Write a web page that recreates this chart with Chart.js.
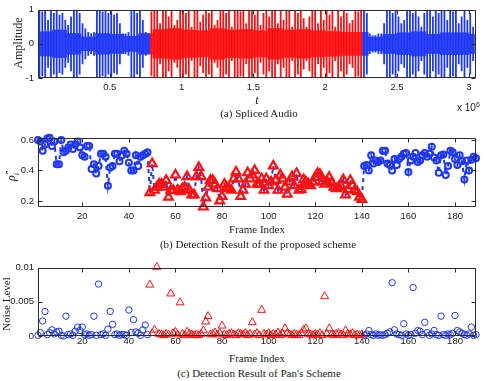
<!DOCTYPE html>
<html>
<head>
<meta charset="utf-8">
<script src="https://cdn.jsdelivr.net/npm/chart.js@4/dist/chart.umd.min.js"></script>
<style>
  body { margin: 0; background: #fff; }
  #page { position: relative; width: 484px; height: 381px; overflow: hidden; background: #fff; }
  canvas { position: absolute; left: 0; }
  .txt { position: absolute; font-family: 'Liberation Serif', serif; font-size: 11px; color: #222;
         white-space: nowrap; transform: translate(-50%, -50%); line-height: 1; }
  .rot { transform: translate(-50%, -50%) rotate(-90deg); }
  .sans { position: absolute; font-family: 'Liberation Sans', sans-serif; font-size: 10px; color: #222;
          white-space: nowrap; line-height: 12px; }
  .sans sup { font-size: 7px; vertical-align: 4px; }
</style>
</head>
<body>
<div id="page">
  <canvas id="audio" width="484" height="96" style="top:0px"></canvas>
  <canvas id="rho" width="484" height="96" style="top:128px"></canvas>
  <canvas id="noise" width="484" height="92" style="top:258px"></canvas>

  <div class="txt rot" style="left:18px;top:43px;font-size:12px">Amplitude</div>
  <div class="txt" style="left:257px;top:100px;font-style:italic;font-size:12px">t</div>
  <div class="sans" style="left:457px;top:99px">x 10<sup>6</sup></div>
  <div class="txt" style="left:259px;top:113px">(a) Spliced Audio</div>

  <div class="txt rot" style="left:13px;top:177px;font-style:italic;font-size:12px">ρ̂<sub style="font-size:8px">i</sub></div>
  <div class="txt" style="left:257px;top:229px">Frame Index</div>
  <div class="txt" style="left:258px;top:244px">(b) Detection Result of the proposed scheme</div>

  <div class="txt rot" style="left:6px;top:304px">Noise Level</div>
  <div class="txt" style="left:257px;top:358px">Frame Index</div>
  <div class="txt" style="left:259px;top:373px">(c) Detection Result of Pan's Scheme</div>
</div>
<script>
'use strict';

// (a) spliced audio: peak amplitude of each 0.02e6-sample segment
const segStep = 0.02;
const spliceStart = 0.78;
const spliceEnd = 2.26;
const peakAmp = [
  1, 0.95, 1, 0.7, 1, 0.9, 1, 0.85, 0.9, 0.7,
  0.55, 0.8, 1, 1, 0.9, 0.6, 0.45, 0.35, 0.3, 0.35,
  1, 1, 0.95, 1, 0.9, 1, 0.85, 0.9, 0.6, 0.3,
  0.3, 0.35, 1, 1, 0.9, 1, 0.7, 0.35, 0.3,
  0.95, 1, 1, 0.6, 1, 1, 0.8, 1, 0.55, 0.7,
  1, 1, 0.9, 1, 0.5, 1, 1, 0.65, 0.85, 1,
  0.9, 1, 0.55, 0.7, 1, 1, 0.9, 1, 0.5, 1,
  1, 0.95, 1, 0.6, 1, 1, 0.85, 1, 0.55, 0.9,
  1, 0.8, 1, 1, 0.6, 1, 0.7, 1, 1, 0.5,
  1, 0.9, 1, 0.75, 0.5, 0.8, 1, 1, 0.6, 1,
  0.7, 1, 0.85, 1, 0.5, 1, 0.8, 1, 0.9, 0.6,
  0.7, 1, 0.95, 1,
  1, 0.9, 0.3, 0.25, 0.25, 0.3, 0.3, 0.6, 1, 1,
  0.9, 1, 0.8, 0.6, 0.7, 1, 1, 0.9, 1, 0.8,
  0.5, 0.9, 1, 1, 0.8, 1, 0.9, 1, 1, 0.7,
  1, 0.95, 1, 0.6, 0.8, 1, 0.7, 0.9, 0.5
];
// dense middle band, per 0.1e6 block
const coreAmp = [
  0.35, 0.4, 0.3, 0.2, 0.3, 0.28, 0.22, 0.3,
  0.42, 0.45, 0.4, 0.38, 0.45, 0.4, 0.42, 0.38, 0.45, 0.4, 0.42, 0.38, 0.36, 0.34, 0.34,
  0.2, 0.28, 0.32, 0.35, 0.28, 0.32, 0.32, 0.28
];
const audioTicks = [0.5, 1, 1.5, 2, 2.5, 3];
const ampTicks = [-1, 0, 1];

// (b) and (c): frames 49..140 come from the other recording
const redFirst = 49;
const redLast = 140;
const rhoValues = [
  0.60, 0.59, 0.53, 0.57, 0.61, 0.615, 0.56, 0.59, 0.44, 0.44,
  0.60, 0.52, 0.53, 0.55, 0.57, 0.54, 0.57, 0.59, 0.55, 0.50,
  0.49, 0.56, 0.56, 0.41, 0.44, 0.38, 0.43, 0.51, 0.51, 0.49,
  0.30, 0.42, 0.43, 0.51, 0.51, 0.46, 0.50, 0.53, 0.51, 0.45,
  0.40, 0.40, 0.50, 0.43, 0.49, 0.50, 0.51, 0.52,
  0.255, 0.445, 0.27, 0.29, 0.31, 0.31, 0.29, 0.335, 0.225, 0.27,
  0.27, 0.37, 0.27, 0.26, 0.28, 0.29, 0.36, 0.27, 0.24, 0.24,
  0.36, 0.42, 0.36, 0.16, 0.22, 0.29, 0.335, 0.335, 0.31, 0.28,
  0.20, 0.23, 0.31, 0.29, 0.28, 0.27, 0.345, 0.39, 0.345, 0.23,
  0.27, 0.31, 0.385, 0.345, 0.37, 0.40, 0.31, 0.31, 0.345, 0.27,
  0.345, 0.30, 0.325, 0.43, 0.335, 0.27, 0.37, 0.345, 0.29, 0.245,
  0.325, 0.36, 0.30, 0.38, 0.27, 0.275, 0.34, 0.325, 0.31, 0.30,
  0.325, 0.355, 0.38, 0.375, 0.325, 0.31, 0.33, 0.355, 0.32, 0.29,
  0.28, 0.29, 0.30, 0.34, 0.24, 0.275, 0.335, 0.30, 0.27, 0.26,
  0.225, 0.21,
  0.43, 0.435, 0.40, 0.50, 0.445, 0.465, 0.455, 0.465, 0.53, 0.53,
  0.445, 0.435, 0.40, 0.475, 0.435, 0.475, 0.49, 0.51, 0.515, 0.39,
  0.465, 0.49, 0.515, 0.455, 0.465, 0.50, 0.515, 0.49, 0.51, 0.555,
  0.485, 0.465, 0.385, 0.50, 0.505, 0.37, 0.43, 0.53, 0.52, 0.475,
  0.435, 0.50, 0.46, 0.34, 0.465, 0.40, 0.47, 0.49, 0.48
];
const noiseValues = [
  0.0001, 0.0005, 0.0022, 0.0036, 0.0002, 0.0005, 0.0009, 0.0003, 0.0006, 0.0007,
  0.0001, 0.0000, 0.0029, 0.0002, 0.0003, 0.0001, 0.0007, 0.0013, 0.0008, 0.0013,
  0.0002, 0.0003, 0.0001, 0.0002, 0.0029, 0.0001, 0.0076, 0.0002, 0.0003, 0.0001,
  0.0010, 0.0036, 0.0017, 0.0002, 0.0003, 0.0001, 0.0002, 0.0002, 0.0001, 0.0038,
  0.0005, 0.0024, 0.0006, 0.0004, 0.0001, 0.0009, 0.0016, 0.0002,
  0.0075, 0.0004, 0.0009, 0.0101, 0.0003, 0.0002, 0.0001, 0.0003, 0.0002, 0.0062,
  0.0004, 0.0006, 0.0002, 0.0049, 0.0003, 0.0001, 0.0006, 0.0003, 0.0002, 0.0001,
  0.0002, 0.0001, 0.0003, 0.0008, 0.0021, 0.0029, 0.0002, 0.0003, 0.0005, 0.0002,
  0.0004, 0.0015, 0.0002, 0.0001, 0.0003, 0.0004, 0.0002, 0.0001, 0.0004, 0.0003,
  0.0002, 0.0004, 0.0001, 0.0003, 0.0020, 0.0002, 0.0004, 0.0001, 0.0038, 0.0003,
  0.0002, 0.0004, 0.0001, 0.0003, 0.0002, 0.0005, 0.0001, 0.0003, 0.0011, 0.0004,
  0.0002, 0.0001, 0.0003, 0.0002, 0.0001, 0.0004, 0.0009, 0.0011, 0.0003, 0.0002,
  0.0001, 0.0003, 0.0002, 0.0004, 0.0001, 0.0058, 0.0003, 0.0011, 0.0002, 0.0001,
  0.0003, 0.0004, 0.0002, 0.0001, 0.0008, 0.0003, 0.0002, 0.0004, 0.0001, 0.0002,
  0.0001, 0.0002,
  0.0001, 0.0003, 0.0008, 0.0002, 0.0001, 0.0003, 0.0001, 0.0002, 0.0001, 0.0002,
  0.0004, 0.0006, 0.0078, 0.0009, 0.0003, 0.0002, 0.0001, 0.0018, 0.0003, 0.0001,
  0.0002, 0.0071, 0.0004, 0.0008, 0.0007, 0.0002, 0.0020, 0.0005, 0.0001, 0.0003,
  0.0008, 0.0002, 0.0001, 0.0029, 0.0002, 0.0001, 0.0003, 0.0002, 0.0004, 0.0030,
  0.0008, 0.0006, 0.0004, 0.0002, 0.0001, 0.0003, 0.0013, 0.0001, 0.0002
];
const frameTicks = [20, 40, 60, 80, 100, 120, 140, 160, 180];
const rhoTicks = [0.2, 0.4, 0.6];
const noiseTicks = [0, 0.005, 0.01];

const blue = 'rgb(30,55,245)';
const red = 'rgb(255,15,15)';
const tickFont = { family: "'Liberation Sans', sans-serif", size: 9.5 };

// matlab style box with inward ticks on all four sides
const boxTicks = {
  id: 'boxTicks',
  afterDatasetsDraw(chart) {
    const ctx = chart.ctx;
    const a = chart.chartArea;
    const sx = chart.scales.x;
    const sy = chart.scales.y;
    const len = 4;
    let L = Math.round(a.left) + 0.5;
    let R = Math.round(a.right) - 0.5;
    let T = Math.round(a.top) + 0.5;
    let B = Math.round(a.bottom) - 0.5;
    ctx.save();
    ctx.strokeStyle = '#2b2b2b';
    ctx.lineWidth = 1;
    ctx.beginPath();
    ctx.rect(L, T, R - L, B - T);
    sx.ticks.forEach(t => {
      let px = Math.round(sx.getPixelForValue(t.value)) + 0.5;
      ctx.moveTo(px, B); ctx.lineTo(px, B - len);
      ctx.moveTo(px, T); ctx.lineTo(px, T + len);
    });
    sy.ticks.forEach(t => {
      let py = Math.round(sy.getPixelForValue(t.value)) + 0.5;
      ctx.moveTo(L, py); ctx.lineTo(L + len, py);
      ctx.moveTo(R, py); ctx.lineTo(R - len, py);
    });
    ctx.stroke();
    ctx.restore();
  }
};

function makeScales(xMin, xMax, xTicks, yMin, yMax, yTicks, xHeight, labelPad) {
  return {
    x: {
      type: 'linear', min: xMin, max: xMax, offset: false,
      grid: { display: false, drawTicks: false }, border: { display: false },
      afterBuildTicks: s => { s.ticks = xTicks.map(v => ({ value: v })); },
      afterFit: s => { s.height = xHeight; },
      ticks: { autoSkip: false, maxRotation: 0, padding: labelPad, color: '#1a1a1a', font: tickFont,
               callback: v => String(v) }
    },
    y: {
      type: 'linear', min: yMin, max: yMax,
      grid: { display: false, drawTicks: false }, border: { display: false },
      afterBuildTicks: s => { s.ticks = yTicks.map(v => ({ value: v })); },
      afterFit: s => { s.width = 38; },
      ticks: { padding: 4, color: '#1a1a1a', font: tickFont, callback: v => String(v) }
    }
  };
}

function baseOptions(top, scales) {
  return {
    responsive: false,
    animation: false,
    devicePixelRatio: 1,
    events: [],
    layout: { padding: { top: top, right: 8, left: 0, bottom: 0 } },
    plugins: { legend: { display: false }, tooltip: { enabled: false } },
    scales: scales
  };
}

// (a)
let blueCore = [], redCore = [], bluePeak = [], redPeak = [];
for (let i = 0; i < peakAmp.length; i++) {
  let t = (i + 0.5) * segStep;
  let core = Math.min(peakAmp[i], coreAmp[Math.floor(t * 10)]);
  let isRed = t > spliceStart && t < spliceEnd;
  (isRed ? redCore : blueCore).push({ x: t, y: [-core, core] });
  (isRed ? redPeak : bluePeak).push({ x: t, y: [-peakAmp[i], peakAmp[i]] });
}

function barSet(data, color, pct) {
  return { data: data, backgroundColor: color, borderWidth: 0, grouped: false,
           barPercentage: pct, categoryPercentage: 1 };
}

new Chart(document.getElementById('audio'), {
  type: 'bar',
  data: { datasets: [
    barSet(bluePeak, blue, 0.62), barSet(redPeak, red, 0.62),
    barSet(blueCore, 'rgba(30,55,245,0.85)', 1), barSet(redCore, 'rgba(255,15,15,0.85)', 1)
  ] },
  options: baseOptions(8, makeScales(0, 3.05, audioTicks, -1, 1, ampTicks, 18, 4)),
  plugins: [boxTicks]
});

// (b) and (c)
let rhoBlue = [], rhoRed = [], rhoAll = [], noiseBlue = [], noiseRed = [];
for (let i = 0; i < rhoValues.length; i++) {
  let f = i + 1;
  let isRed = f >= redFirst && f <= redLast;
  rhoAll.push({ x: f, y: rhoValues[i] });
  (isRed ? rhoRed : rhoBlue).push({ x: f, y: rhoValues[i] });
  (isRed ? noiseRed : noiseBlue).push({ x: f, y: noiseValues[i] });
}

function markers(data, color, style, r, w) {
  return { data: data, pointStyle: style, pointRadius: r, borderColor: color, pointBorderWidth: w,
           backgroundColor: 'rgba(0,0,0,0)', showLine: false, clip: false };
}

new Chart(document.getElementById('rho'), {
  type: 'scatter',
  data: { datasets: [
    markers(rhoRed, red, 'triangle', 5, 2.2),
    markers(rhoBlue, blue, 'circle', 3, 2),
    { data: rhoAll, showLine: true, borderColor: blue, borderWidth: 2, borderDash: [4, 4],
      pointRadius: 0, tension: 0 }
  ] },
  options: baseOptions(9, makeScales(1, 189, frameTicks, 0.16, 0.615, rhoTicks, 17, 4)),
  plugins: [boxTicks]
});

new Chart(document.getElementById('noise'), {
  type: 'scatter',
  data: { datasets: [
    markers(noiseRed, red, 'triangle', 4.6, 1),
    markers(noiseBlue, blue, 'circle', 3.2, 1)
  ] },
  options: baseOptions(9, makeScales(1, 189, frameTicks, 0, 0.01, noiseTicks, 14, 0)),
  plugins: [boxTicks]
});
</script>
</body>
</html>
